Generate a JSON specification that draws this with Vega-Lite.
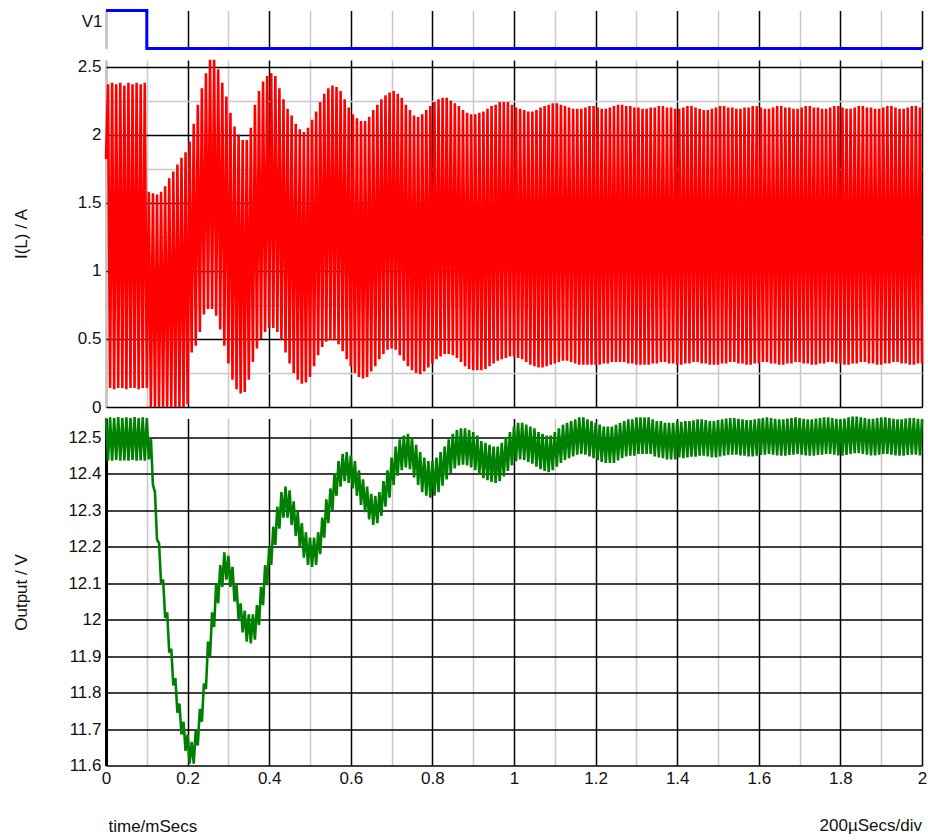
{
"$schema": "https://vega.github.io/schema/vega-lite/v6.json",
"background": "white",
"padding": {"left": 12, "top": 4.5, "right": 5, "bottom": 5},
"bounds": "flush",
"spacing": 11.5,
"config": {
  "font": "Liberation Sans",
  "view": {"stroke": null},
  "axis": {"labelFont": "Liberation Sans", "titleFont": "Liberation Sans", "labelFontSize": 17, "titleFontSize": 17, "labelColor": "#111111", "titleColor": "#111111", "titleFontWeight": "normal", "ticks": false, "domain": false, "gridOpacity": 1, "labelFlush": false, "labelOverlap": false}
},
"datasets": {
  "v1": [{"t": 0, "v": 1}, {"t": 0.1, "v": 0}, {"t": 2, "v": 0}],
  "inductor": [
{"t":0,"i":1.82},{"t":0.005,"i":2.37},{"t":0.01,"i":0.14},{"t":0.015,"i":2.38},{"t":0.02,"i":0.13},{"t":0.025,"i":2.37},{"t":0.03,"i":0.14},{"t":0.035,"i":2.38},{"t":0.04,"i":0.14},{"t":0.045,"i":2.36},{"t":0.05,"i":0.13},{"t":0.055,"i":2.38},{"t":0.06,"i":0.14},{"t":0.065,"i":2.37},{"t":0.07,"i":0.14},{"t":0.075,"i":2.38},{"t":0.08,"i":0.13},{"t":0.085,"i":2.37},{"t":0.09,"i":0.14},{"t":0.095,"i":2.38},
{"t":0.1,"i":0.14},{"t":0.105,"i":1.58},{"t":0.11,"i":0},{"t":0.115,"i":1.57},{"t":0.12,"i":0},{"t":0.125,"i":1.56},{"t":0.13,"i":0},{"t":0.135,"i":1.58},{"t":0.14,"i":0},{"t":0.145,"i":1.62},{"t":0.15,"i":0},{"t":0.155,"i":1.68},{"t":0.16,"i":0},{"t":0.165,"i":1.73},{"t":0.17,"i":0},{"t":0.175,"i":1.78},{"t":0.18,"i":0},{"t":0.185,"i":1.83},{"t":0.19,"i":0},{"t":0.195,"i":1.87},
{"t":0.2,"i":0.02},{"t":0.205,"i":1.95},{"t":0.21,"i":0.4},{"t":0.215,"i":2.08},{"t":0.22,"i":0.45},{"t":0.225,"i":2.22},{"t":0.23,"i":0.55},{"t":0.235,"i":2.34},{"t":0.24,"i":0.68},{"t":0.245,"i":2.45},{"t":0.25,"i":0.72},{"t":0.255,"i":2.55},{"t":0.26,"i":0.72},{"t":0.265,"i":2.55},{"t":0.27,"i":0.67},{"t":0.275,"i":2.48},{"t":0.28,"i":0.57},{"t":0.285,"i":2.38},{"t":0.29,"i":0.45},{"t":0.295,"i":2.28},
{"t":0.3,"i":0.32},{"t":0.305,"i":2.16},{"t":0.31,"i":0.2},{"t":0.315,"i":2.06},{"t":0.32,"i":0.13},{"t":0.325,"i":2},{"t":0.33,"i":0.1},{"t":0.335,"i":1.96},{"t":0.34,"i":0.11},{"t":0.345,"i":1.96},{"t":0.35,"i":0.2},{"t":0.355,"i":2.05},{"t":0.36,"i":0.33},{"t":0.365,"i":2.22},{"t":0.37,"i":0.43},{"t":0.375,"i":2.32},{"t":0.38,"i":0.5},{"t":0.385,"i":2.39},{"t":0.39,"i":0.55},{"t":0.395,"i":2.43},
{"t":0.4,"i":0.58},{"t":0.405,"i":2.45},{"t":0.41,"i":0.58},{"t":0.415,"i":2.43},{"t":0.42,"i":0.55},{"t":0.425,"i":2.34},{"t":0.43,"i":0.49},{"t":0.435,"i":2.26},{"t":0.44,"i":0.4},{"t":0.445,"i":2.19},{"t":0.45,"i":0.32},{"t":0.455,"i":2.14},{"t":0.46,"i":0.25},{"t":0.465,"i":2.08},{"t":0.47,"i":0.2},{"t":0.475,"i":2.04},{"t":0.48,"i":0.17},{"t":0.485,"i":2.02},{"t":0.49,"i":0.18},{"t":0.495,"i":2.05},
{"t":0.5,"i":0.22},{"t":0.505,"i":2.11},{"t":0.51,"i":0.3},{"t":0.515,"i":2.17},{"t":0.52,"i":0.38},{"t":0.525,"i":2.24},{"t":0.53,"i":0.44},{"t":0.535,"i":2.3},{"t":0.54,"i":0.48},{"t":0.545,"i":2.34},{"t":0.55,"i":0.49},{"t":0.555,"i":2.36},{"t":0.56,"i":0.49},{"t":0.565,"i":2.35},{"t":0.57,"i":0.46},{"t":0.575,"i":2.32},{"t":0.58,"i":0.41},{"t":0.585,"i":2.26},{"t":0.59,"i":0.35},{"t":0.595,"i":2.2},
{"t":0.6,"i":0.3},{"t":0.605,"i":2.15},{"t":0.61,"i":0.25},{"t":0.615,"i":2.12},{"t":0.62,"i":0.22},{"t":0.625,"i":2.1},{"t":0.63,"i":0.21},{"t":0.635,"i":2.1},{"t":0.64,"i":0.22},{"t":0.645,"i":2.13},{"t":0.65,"i":0.26},{"t":0.655,"i":2.18},{"t":0.66,"i":0.3},{"t":0.665,"i":2.22},{"t":0.67,"i":0.35},{"t":0.675,"i":2.26},{"t":0.68,"i":0.39},{"t":0.685,"i":2.29},{"t":0.69,"i":0.42},{"t":0.695,"i":2.31},
{"t":0.7,"i":0.43},{"t":0.705,"i":2.32},{"t":0.71,"i":0.42},{"t":0.715,"i":2.3},{"t":0.72,"i":0.38},{"t":0.725,"i":2.27},{"t":0.73,"i":0.34},{"t":0.735,"i":2.22},{"t":0.74,"i":0.3},{"t":0.745,"i":2.18},{"t":0.75,"i":0.27},{"t":0.755,"i":2.14},{"t":0.76,"i":0.25},{"t":0.765,"i":2.13},{"t":0.77,"i":0.24},{"t":0.775,"i":2.15},{"t":0.78,"i":0.26},{"t":0.785,"i":2.18},{"t":0.79,"i":0.29},{"t":0.795,"i":2.21},
{"t":0.8,"i":0.32},{"t":0.805,"i":2.24},{"t":0.81,"i":0.35},{"t":0.815,"i":2.26},{"t":0.82,"i":0.37},{"t":0.825,"i":2.27},{"t":0.83,"i":0.39},{"t":0.835,"i":2.27},{"t":0.84,"i":0.39},{"t":0.845,"i":2.25},{"t":0.85,"i":0.38},{"t":0.855,"i":2.23},{"t":0.86,"i":0.36},{"t":0.865,"i":2.21},{"t":0.87,"i":0.33},{"t":0.875,"i":2.18},{"t":0.88,"i":0.3},{"t":0.885,"i":2.16},{"t":0.89,"i":0.28},{"t":0.895,"i":2.15},
{"t":0.9,"i":0.27},{"t":0.905,"i":2.15},{"t":0.91,"i":0.27},{"t":0.915,"i":2.16},{"t":0.92,"i":0.27},{"t":0.925,"i":2.17},{"t":0.93,"i":0.28},{"t":0.935,"i":2.19},{"t":0.94,"i":0.3},{"t":0.945,"i":2.21},{"t":0.95,"i":0.32},{"t":0.955,"i":2.22},{"t":0.96,"i":0.34},{"t":0.965,"i":2.24},{"t":0.97,"i":0.35},{"t":0.975,"i":2.24},{"t":0.98,"i":0.36},{"t":0.985,"i":2.24},{"t":0.99,"i":0.37},{"t":0.995,"i":2.22},
{"t":1,"i":0.37},{"t":1.005,"i":2.2},{"t":1.01,"i":0.36},{"t":1.015,"i":2.19},{"t":1.02,"i":0.35},{"t":1.025,"i":2.18},{"t":1.03,"i":0.33},{"t":1.035,"i":2.17},{"t":1.04,"i":0.31},{"t":1.045,"i":2.17},{"t":1.05,"i":0.3},{"t":1.055,"i":2.18},{"t":1.06,"i":0.29},{"t":1.065,"i":2.2},{"t":1.07,"i":0.29},{"t":1.075,"i":2.21},{"t":1.08,"i":0.3},{"t":1.085,"i":2.22},{"t":1.09,"i":0.31},{"t":1.095,"i":2.23},
{"t":1.1,"i":0.32},{"t":1.105,"i":2.23},{"t":1.11,"i":0.33},{"t":1.115,"i":2.22},{"t":1.12,"i":0.34},{"t":1.125,"i":2.21},{"t":1.13,"i":0.34},{"t":1.135,"i":2.2},{"t":1.14,"i":0.33},{"t":1.145,"i":2.19},{"t":1.15,"i":0.32},{"t":1.155,"i":2.19},{"t":1.16,"i":0.31},{"t":1.165,"i":2.19},{"t":1.17,"i":0.31},{"t":1.175,"i":2.2},{"t":1.18,"i":0.31},{"t":1.185,"i":2.21},{"t":1.19,"i":0.31},{"t":1.195,"i":2.21},
{"t":1.2,"i":0.31},{"t":1.205,"i":2.2},{"t":1.21,"i":0.31},{"t":1.215,"i":2.19},{"t":1.22,"i":0.32},{"t":1.225,"i":2.19},{"t":1.23,"i":0.32},{"t":1.235,"i":2.2},{"t":1.24,"i":0.33},{"t":1.245,"i":2.21},{"t":1.25,"i":0.33},{"t":1.255,"i":2.22},{"t":1.26,"i":0.33},{"t":1.265,"i":2.22},{"t":1.27,"i":0.33},{"t":1.275,"i":2.21},{"t":1.28,"i":0.32},{"t":1.285,"i":2.21},{"t":1.29,"i":0.32},{"t":1.295,"i":2.2},
{"t":1.3,"i":0.31},{"t":1.305,"i":2.2},{"t":1.31,"i":0.31},{"t":1.315,"i":2.19},{"t":1.32,"i":0.31},{"t":1.325,"i":2.19},{"t":1.33,"i":0.31},{"t":1.335,"i":2.2},{"t":1.34,"i":0.32},{"t":1.345,"i":2.2},{"t":1.35,"i":0.32},{"t":1.355,"i":2.21},{"t":1.36,"i":0.33},{"t":1.365,"i":2.21},{"t":1.37,"i":0.33},{"t":1.375,"i":2.2},{"t":1.38,"i":0.32},{"t":1.385,"i":2.2},{"t":1.39,"i":0.32},{"t":1.395,"i":2.19},
{"t":1.4,"i":0.31},{"t":1.405,"i":2.19},{"t":1.41,"i":0.31},{"t":1.415,"i":2.2},{"t":1.42,"i":0.32},{"t":1.425,"i":2.21},{"t":1.43,"i":0.32},{"t":1.435,"i":2.21},{"t":1.44,"i":0.33},{"t":1.445,"i":2.2},{"t":1.45,"i":0.33},{"t":1.455,"i":2.19},{"t":1.46,"i":0.32},{"t":1.465,"i":2.18},{"t":1.47,"i":0.32},{"t":1.475,"i":2.18},{"t":1.48,"i":0.31},{"t":1.485,"i":2.19},{"t":1.49,"i":0.31},{"t":1.495,"i":2.2},
{"t":1.5,"i":0.31},{"t":1.505,"i":2.21},{"t":1.51,"i":0.32},{"t":1.515,"i":2.21},{"t":1.52,"i":0.32},{"t":1.525,"i":2.2},{"t":1.53,"i":0.33},{"t":1.535,"i":2.2},{"t":1.54,"i":0.33},{"t":1.545,"i":2.19},{"t":1.55,"i":0.32},{"t":1.555,"i":2.19},{"t":1.56,"i":0.32},{"t":1.565,"i":2.2},{"t":1.57,"i":0.31},{"t":1.575,"i":2.2},{"t":1.58,"i":0.31},{"t":1.585,"i":2.21},{"t":1.59,"i":0.32},{"t":1.595,"i":2.21},
{"t":1.6,"i":0.32},{"t":1.605,"i":2.2},{"t":1.61,"i":0.33},{"t":1.615,"i":2.19},{"t":1.62,"i":0.33},{"t":1.625,"i":2.19},{"t":1.63,"i":0.32},{"t":1.635,"i":2.2},{"t":1.64,"i":0.32},{"t":1.645,"i":2.21},{"t":1.65,"i":0.31},{"t":1.655,"i":2.21},{"t":1.66,"i":0.31},{"t":1.665,"i":2.2},{"t":1.67,"i":0.32},{"t":1.675,"i":2.2},{"t":1.68,"i":0.32},{"t":1.685,"i":2.19},{"t":1.69,"i":0.33},{"t":1.695,"i":2.19},
{"t":1.7,"i":0.33},{"t":1.705,"i":2.2},{"t":1.71,"i":0.32},{"t":1.715,"i":2.21},{"t":1.72,"i":0.32},{"t":1.725,"i":2.21},{"t":1.73,"i":0.31},{"t":1.735,"i":2.2},{"t":1.74,"i":0.31},{"t":1.745,"i":2.2},{"t":1.75,"i":0.32},{"t":1.755,"i":2.19},{"t":1.76,"i":0.32},{"t":1.765,"i":2.19},{"t":1.77,"i":0.33},{"t":1.775,"i":2.2},{"t":1.78,"i":0.33},{"t":1.785,"i":2.21},{"t":1.79,"i":0.32},{"t":1.795,"i":2.21},
{"t":1.8,"i":0.32},{"t":1.805,"i":2.2},{"t":1.81,"i":0.31},{"t":1.815,"i":2.19},{"t":1.82,"i":0.31},{"t":1.825,"i":2.19},{"t":1.83,"i":0.32},{"t":1.835,"i":2.2},{"t":1.84,"i":0.32},{"t":1.845,"i":2.21},{"t":1.85,"i":0.33},{"t":1.855,"i":2.21},{"t":1.86,"i":0.33},{"t":1.865,"i":2.2},{"t":1.87,"i":0.32},{"t":1.875,"i":2.2},{"t":1.88,"i":0.32},{"t":1.885,"i":2.19},{"t":1.89,"i":0.31},{"t":1.895,"i":2.19},
{"t":1.9,"i":0.31},{"t":1.905,"i":2.2},{"t":1.91,"i":0.32},{"t":1.915,"i":2.21},{"t":1.92,"i":0.32},{"t":1.925,"i":2.21},{"t":1.93,"i":0.33},{"t":1.935,"i":2.2},{"t":1.94,"i":0.33},{"t":1.945,"i":2.19},{"t":1.95,"i":0.32},{"t":1.955,"i":2.19},{"t":1.96,"i":0.32},{"t":1.965,"i":2.2},{"t":1.97,"i":0.31},{"t":1.975,"i":2.21},{"t":1.98,"i":0.31},{"t":1.985,"i":2.21},{"t":1.99,"i":0.32},{"t":1.995,"i":2.2},
{"t":2,"i":0.32}
  ],
  "output": [
{"t":0,"v":12.553},{"t":0.005,"v":12.437},{"t":0.01,"v":12.555},{"t":0.015,"v":12.436},{"t":0.02,"v":12.553},{"t":0.025,"v":12.438},{"t":0.03,"v":12.556},{"t":0.035,"v":12.436},{"t":0.04,"v":12.553},{"t":0.045,"v":12.437},{"t":0.05,"v":12.555},{"t":0.055,"v":12.436},{"t":0.06,"v":12.553},{"t":0.065,"v":12.438},{"t":0.07,"v":12.556},{"t":0.075,"v":12.436},{"t":0.08,"v":12.553},{"t":0.085,"v":12.437},{"t":0.09,"v":12.555},{"t":0.095,"v":12.436},
{"t":0.1,"v":12.553},{"t":0.105,"v":12.44},{"t":0.11,"v":12.5},{"t":0.115,"v":12.37},{"t":0.12,"v":12.35},{"t":0.125,"v":12.22},{"t":0.13,"v":12.21},{"t":0.135,"v":12.1},{"t":0.14,"v":12.11},{"t":0.145,"v":12.005},{"t":0.15,"v":12.02},{"t":0.155,"v":11.91},{"t":0.16,"v":11.92},{"t":0.165,"v":11.82},{"t":0.17,"v":11.84},{"t":0.175,"v":11.745},{"t":0.18,"v":11.77},{"t":0.185,"v":11.685},{"t":0.19,"v":11.72},{"t":0.195,"v":11.64},
{"t":0.2,"v":11.685},{"t":0.205,"v":11.605},{"t":0.21,"v":11.665},{"t":0.215,"v":11.605},{"t":0.22,"v":11.695},{"t":0.225,"v":11.655},{"t":0.23,"v":11.755},{"t":0.235,"v":11.72},{"t":0.24,"v":11.825},{"t":0.245,"v":11.81},{"t":0.25,"v":11.94},{"t":0.255,"v":11.9},{"t":0.26,"v":12.02},{"t":0.265,"v":11.98},{"t":0.27,"v":12.1},{"t":0.275,"v":12.045},{"t":0.28,"v":12.15},{"t":0.285,"v":12.09},{"t":0.29,"v":12.185},{"t":0.295,"v":12.11},
{"t":0.3,"v":12.175},{"t":0.305,"v":12.09},{"t":0.31,"v":12.145},{"t":0.315,"v":12.05},{"t":0.32,"v":12.095},{"t":0.325,"v":12},{"t":0.33,"v":12.045},{"t":0.335,"v":11.965},{"t":0.34,"v":12.025},{"t":0.345,"v":11.94},{"t":0.35,"v":12.015},{"t":0.355,"v":11.935},{"t":0.36,"v":12.015},{"t":0.365,"v":11.945},{"t":0.37,"v":12.04},{"t":0.375,"v":11.985},{"t":0.38,"v":12.09},{"t":0.385,"v":12.04},{"t":0.39,"v":12.15},{"t":0.395,"v":12.095},
{"t":0.4,"v":12.2},{"t":0.405,"v":12.15},{"t":0.41,"v":12.255},{"t":0.415,"v":12.205},{"t":0.42,"v":12.31},{"t":0.425,"v":12.25},{"t":0.43,"v":12.35},{"t":0.435,"v":12.28},{"t":0.44,"v":12.365},{"t":0.445,"v":12.28},{"t":0.45,"v":12.355},{"t":0.455,"v":12.26},{"t":0.46,"v":12.325},{"t":0.465,"v":12.23},{"t":0.47,"v":12.295},{"t":0.475,"v":12.2},{"t":0.48,"v":12.265},{"t":0.485,"v":12.17},{"t":0.49,"v":12.24},{"t":0.495,"v":12.15},
{"t":0.5,"v":12.225},{"t":0.505,"v":12.145},{"t":0.51,"v":12.225},{"t":0.515,"v":12.15},{"t":0.52,"v":12.24},{"t":0.525,"v":12.18},{"t":0.53,"v":12.28},{"t":0.535,"v":12.225},{"t":0.54,"v":12.33},{"t":0.545,"v":12.265},{"t":0.55,"v":12.36},{"t":0.555,"v":12.3},{"t":0.56,"v":12.4},{"t":0.565,"v":12.34},{"t":0.57,"v":12.435},{"t":0.575,"v":12.365},{"t":0.58,"v":12.455},{"t":0.585,"v":12.38},{"t":0.59,"v":12.46},{"t":0.595,"v":12.375},
{"t":0.6,"v":12.45},{"t":0.605,"v":12.36},{"t":0.61,"v":12.435},{"t":0.615,"v":12.34},{"t":0.62,"v":12.41},{"t":0.625,"v":12.315},{"t":0.63,"v":12.385},{"t":0.635,"v":12.295},{"t":0.64,"v":12.365},{"t":0.645,"v":12.275},{"t":0.65,"v":12.345},{"t":0.655,"v":12.26},{"t":0.66,"v":12.34},{"t":0.665,"v":12.265},{"t":0.67,"v":12.35},{"t":0.675,"v":12.285},{"t":0.68,"v":12.38},{"t":0.685,"v":12.31},{"t":0.69,"v":12.41},{"t":0.695,"v":12.335},
{"t":0.7,"v":12.445},{"t":0.705,"v":12.37},{"t":0.71,"v":12.475},{"t":0.715,"v":12.395},{"t":0.72,"v":12.495},{"t":0.725,"v":12.41},{"t":0.73,"v":12.505},{"t":0.735,"v":12.418},{"t":0.74,"v":12.51},{"t":0.745,"v":12.413},{"t":0.75,"v":12.5},{"t":0.755,"v":12.39},{"t":0.76,"v":12.48},{"t":0.765,"v":12.37},{"t":0.77,"v":12.46},{"t":0.775,"v":12.35},{"t":0.78,"v":12.445},{"t":0.785,"v":12.34},{"t":0.79,"v":12.435},{"t":0.795,"v":12.335},
{"t":0.8,"v":12.435},{"t":0.805,"v":12.34},{"t":0.81,"v":12.445},{"t":0.815,"v":12.35},{"t":0.82,"v":12.46},{"t":0.825,"v":12.368},{"t":0.83,"v":12.475},{"t":0.835,"v":12.385},{"t":0.84,"v":12.495},{"t":0.845,"v":12.403},{"t":0.85,"v":12.51},{"t":0.855,"v":12.415},{"t":0.86,"v":12.52},{"t":0.865,"v":12.423},{"t":0.87,"v":12.525},{"t":0.875,"v":12.425},{"t":0.88,"v":12.525},{"t":0.885,"v":12.423},{"t":0.89,"v":12.52},{"t":0.895,"v":12.418},
{"t":0.9,"v":12.515},{"t":0.905,"v":12.41},{"t":0.91,"v":12.505},{"t":0.915,"v":12.398},{"t":0.92,"v":12.49},{"t":0.925,"v":12.388},{"t":0.93,"v":12.485},{"t":0.935,"v":12.383},{"t":0.94,"v":12.48},{"t":0.945,"v":12.378},{"t":0.95,"v":12.475},{"t":0.955,"v":12.375},{"t":0.96,"v":12.475},{"t":0.965,"v":12.38},{"t":0.97,"v":12.485},{"t":0.975,"v":12.393},{"t":0.98,"v":12.5},{"t":0.985,"v":12.408},{"t":0.99,"v":12.515},{"t":0.995,"v":12.423},
{"t":1,"v":12.53},{"t":1.005,"v":12.435},{"t":1.01,"v":12.54},{"t":1.015,"v":12.44},{"t":1.02,"v":12.54},{"t":1.025,"v":12.438},{"t":1.03,"v":12.535},{"t":1.035,"v":12.433},{"t":1.04,"v":12.53},{"t":1.045,"v":12.428},{"t":1.05,"v":12.525},{"t":1.055,"v":12.42},{"t":1.06,"v":12.515},{"t":1.065,"v":12.413},{"t":1.07,"v":12.51},{"t":1.075,"v":12.408},{"t":1.08,"v":12.505},{"t":1.085,"v":12.405},{"t":1.09,"v":12.505},{"t":1.095,"v":12.41},
{"t":1.1,"v":12.515},{"t":1.105,"v":12.42},{"t":1.11,"v":12.525},{"t":1.115,"v":12.43},{"t":1.12,"v":12.535},{"t":1.125,"v":12.438},{"t":1.13,"v":12.54},{"t":1.135,"v":12.443},{"t":1.14,"v":12.545},{"t":1.145,"v":12.448},{"t":1.15,"v":12.55},{"t":1.155,"v":12.453},{"t":1.16,"v":12.555},{"t":1.165,"v":12.455},{"t":1.17,"v":12.555},{"t":1.175,"v":12.453},{"t":1.18,"v":12.55},{"t":1.185,"v":12.448},{"t":1.19,"v":12.545},{"t":1.195,"v":12.443},
{"t":1.2,"v":12.54},{"t":1.205,"v":12.438},{"t":1.21,"v":12.535},{"t":1.215,"v":12.433},{"t":1.22,"v":12.53},{"t":1.225,"v":12.43},{"t":1.23,"v":12.53},{"t":1.235,"v":12.43},{"t":1.24,"v":12.53},{"t":1.245,"v":12.43},{"t":1.25,"v":12.535},{"t":1.255,"v":12.437},{"t":1.26,"v":12.54},{"t":1.265,"v":12.443},{"t":1.27,"v":12.545},{"t":1.275,"v":12.448},{"t":1.28,"v":12.55},{"t":1.285,"v":12.45},{"t":1.29,"v":12.55},{"t":1.295,"v":12.45},
{"t":1.3,"v":12.555},{"t":1.305,"v":12.455},{"t":1.31,"v":12.555},{"t":1.315,"v":12.455},{"t":1.32,"v":12.555},{"t":1.325,"v":12.455},{"t":1.33,"v":12.555},{"t":1.335,"v":12.455},{"t":1.34,"v":12.55},{"t":1.345,"v":12.448},{"t":1.35,"v":12.545},{"t":1.355,"v":12.445},{"t":1.36,"v":12.545},{"t":1.365,"v":12.443},{"t":1.37,"v":12.54},{"t":1.375,"v":12.44},{"t":1.38,"v":12.54},{"t":1.385,"v":12.44},{"t":1.39,"v":12.54},{"t":1.395,"v":12.44},
{"t":1.4,"v":12.545},{"t":1.405,"v":12.445},{"t":1.41,"v":12.543},{"t":1.415,"v":12.443},{"t":1.42,"v":12.545},{"t":1.425,"v":12.445},{"t":1.43,"v":12.545},{"t":1.435,"v":12.447},{"t":1.44,"v":12.547},{"t":1.445,"v":12.447},{"t":1.45,"v":12.55},{"t":1.455,"v":12.45},{"t":1.46,"v":12.55},{"t":1.465,"v":12.45},{"t":1.47,"v":12.548},{"t":1.475,"v":12.448},{"t":1.48,"v":12.545},{"t":1.485,"v":12.445},{"t":1.49,"v":12.545},{"t":1.495,"v":12.445},
{"t":1.5,"v":12.548},{"t":1.505,"v":12.448},{"t":1.51,"v":12.55},{"t":1.515,"v":12.45},{"t":1.52,"v":12.552},{"t":1.525,"v":12.452},{"t":1.53,"v":12.553},{"t":1.535,"v":12.453},{"t":1.54,"v":12.553},{"t":1.545,"v":12.453},{"t":1.55,"v":12.551},{"t":1.555,"v":12.451},{"t":1.56,"v":12.55},{"t":1.565,"v":12.45},{"t":1.57,"v":12.548},{"t":1.575,"v":12.448},{"t":1.58,"v":12.548},{"t":1.585,"v":12.448},{"t":1.59,"v":12.55},{"t":1.595,"v":12.45},
{"t":1.6,"v":12.552},{"t":1.605,"v":12.452},{"t":1.61,"v":12.553},{"t":1.615,"v":12.453},{"t":1.62,"v":12.555},{"t":1.625,"v":12.455},{"t":1.63,"v":12.553},{"t":1.635,"v":12.453},{"t":1.64,"v":12.551},{"t":1.645,"v":12.451},{"t":1.65,"v":12.55},{"t":1.655,"v":12.45},{"t":1.66,"v":12.55},{"t":1.665,"v":12.45},{"t":1.67,"v":12.552},{"t":1.675,"v":12.452},{"t":1.68,"v":12.553},{"t":1.685,"v":12.453},{"t":1.69,"v":12.555},{"t":1.695,"v":12.455},
{"t":1.7,"v":12.553},{"t":1.705,"v":12.453},{"t":1.71,"v":12.551},{"t":1.715,"v":12.451},{"t":1.72,"v":12.55},{"t":1.725,"v":12.45},{"t":1.73,"v":12.55},{"t":1.735,"v":12.45},{"t":1.74,"v":12.552},{"t":1.745,"v":12.452},{"t":1.75,"v":12.553},{"t":1.755,"v":12.453},{"t":1.76,"v":12.555},{"t":1.765,"v":12.455},{"t":1.77,"v":12.555},{"t":1.775,"v":12.455},{"t":1.78,"v":12.553},{"t":1.785,"v":12.453},{"t":1.79,"v":12.551},{"t":1.795,"v":12.451},
{"t":1.8,"v":12.55},{"t":1.805,"v":12.45},{"t":1.81,"v":12.552},{"t":1.815,"v":12.452},{"t":1.82,"v":12.555},{"t":1.825,"v":12.455},{"t":1.83,"v":12.557},{"t":1.835,"v":12.457},{"t":1.84,"v":12.557},{"t":1.845,"v":12.457},{"t":1.85,"v":12.555},{"t":1.855,"v":12.455},{"t":1.86,"v":12.553},{"t":1.865,"v":12.453},{"t":1.87,"v":12.551},{"t":1.875,"v":12.451},{"t":1.88,"v":12.551},{"t":1.885,"v":12.451},{"t":1.89,"v":12.553},{"t":1.895,"v":12.453},
{"t":1.9,"v":12.555},{"t":1.905,"v":12.455},{"t":1.91,"v":12.555},{"t":1.915,"v":12.455},{"t":1.92,"v":12.553},{"t":1.925,"v":12.453},{"t":1.93,"v":12.551},{"t":1.935,"v":12.451},{"t":1.94,"v":12.55},{"t":1.945,"v":12.45},{"t":1.95,"v":12.55},{"t":1.955,"v":12.45},{"t":1.96,"v":12.552},{"t":1.965,"v":12.452},{"t":1.97,"v":12.553},{"t":1.975,"v":12.453},{"t":1.98,"v":12.553},{"t":1.985,"v":12.453},{"t":1.99,"v":12.551},{"t":1.995,"v":12.451},
{"t":2,"v":12.55}
  ]
},
"vconcat": [
  {
    "width": 816, "height": 38,
    "data": {"name": "v1"},
    "mark": {"type": "line", "color": "#0000ff", "strokeWidth": 3, "interpolate": "step-after"},
    "encoding": {
      "x": {"field": "t", "type": "quantitative", "scale": {"domain": [0, 2], "nice": false},
        "axis": {"labels": false, "title": null, "values": [0,0.1,0.2,0.3,0.4,0.5,0.6,0.7,0.8,0.9,1,1.1,1.2,1.3,1.4,1.5,1.6,1.7,1.8,1.9,2],
          "gridColor": {"condition": {"test": "datum.value === 0 || round(datum.value*10) % 2 === 1", "value": "#c8c8c8"}, "value": "#000000"},
          "gridWidth": {"condition": {"test": "datum.value === 0", "value": 3}, "value": 1.5}}},
      "y": {"field": "v", "type": "quantitative", "scale": {"domain": [0, 1], "nice": false},
        "axis": {"title": "V1", "grid": false, "labels": false, "titleAngle": 0, "titleX": -4, "titleY": 11, "titleAlign": "right", "titleBaseline": "middle"}}
    }
  },
  {
    "width": 816, "height": 347,
    "data": {"name": "inductor"},
    "mark": {"type": "line", "color": "#ff0000", "strokeWidth": 2.6, "strokeJoin": "bevel"},
    "encoding": {
      "x": {"field": "t", "type": "quantitative", "scale": {"domain": [0, 2], "nice": false},
        "axis": {"labels": false, "title": null, "values": [0,0.1,0.2,0.3,0.4,0.5,0.6,0.7,0.8,0.9,1,1.1,1.2,1.3,1.4,1.5,1.6,1.7,1.8,1.9,2],
          "gridColor": {"condition": {"test": "datum.value === 0 || round(datum.value*10) % 2 === 1", "value": "#c8c8c8"}, "value": "#000000"},
          "gridWidth": {"condition": {"test": "datum.value === 0", "value": 3}, "value": 1.5}}},
      "y": {"field": "i", "type": "quantitative", "scale": {"domain": [0, 2.548], "nice": false, "zero": false},
        "axis": {"title": "I(L) / A", "values": [0,0.25,0.5,0.75,1,1.25,1.5,1.75,2,2.25,2.5],
          "labelExpr": "datum.value % 0.5 === 0 ? format(datum.value, '~g') : ''",
          "labelPadding": 5, "labelBaseline": "middle",
          "gridColor": {"condition": {"test": "datum.value % 0.5 !== 0", "value": "#c8c8c8"}, "value": "#000000"},
          "gridWidth": 1.5,
          "titleX": -85, "titleY": 173.5, "titleAngle": -90, "titleAlign": "center", "titleBaseline": "middle", "titleFontSize": 17}}
    }
  },
  {
    "width": 816, "height": 347,
    "data": {"name": "output"},
    "mark": {"type": "line", "color": "#008000", "strokeWidth": 2.6, "strokeJoin": "bevel"},
    "encoding": {
      "x": {"field": "t", "type": "quantitative", "scale": {"domain": [0, 2], "nice": false},
        "axis": {"title": "time/mSecs", "values": [0,0.1,0.2,0.3,0.4,0.5,0.6,0.7,0.8,0.9,1,1.1,1.2,1.3,1.4,1.5,1.6,1.7,1.8,1.9,2],
          "labelExpr": "round(datum.value*10) % 2 === 0 ? format(datum.value, '~g') : ''",
          "labelPadding": 5,
          "gridColor": {"condition": {"test": "round(datum.value*10) % 2 === 1", "value": "#c8c8c8"}, "value": "#000000"},
          "gridWidth": {"condition": {"test": "datum.value === 0", "value": 3}, "value": 1.5},
          "titleX": 2, "titleY": 66, "titleAlign": "left", "titleBaseline": "alphabetic", "titleAnchor": "start"}},
      "y": {"field": "v", "type": "quantitative", "scale": {"domain": [11.6, 12.552], "nice": false, "zero": false},
        "axis": {"title": "Output / V", "values": [11.6,11.7,11.8,11.9,12,12.1,12.2,12.3,12.4,12.5],
          "format": "~g", "labelPadding": 5, "labelBaseline": "middle",
          "gridColor": "#000000", "gridWidth": 1.5,
          "titleX": -85, "titleY": 173.5, "titleAngle": -90, "titleAlign": "center", "titleBaseline": "middle", "titleFontSize": 17}}
    },
    "title": {"text": "200µSecs/div", "orient": "bottom", "anchor": "end", "frame": "group", "font": "Liberation Sans", "fontSize": 17, "fontWeight": "normal", "color": "#111111", "offset": 0, "dy": -17}
  }
]
}
